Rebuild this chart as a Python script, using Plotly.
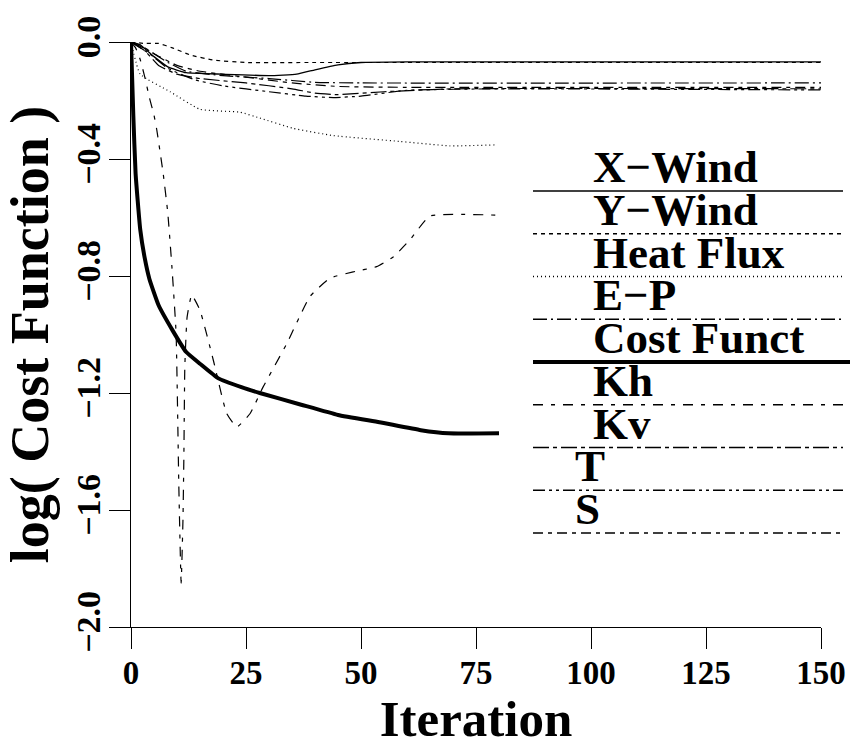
import plotly.graph_objects as go

# ---------------- data ----------------
series_names = ["X−Wind", "Y−Wind", "Heat Flux", "E−P", "Cost Funct", "Kh", "Kv", "T", "S"]

xwind_x = [0, 2, 5, 8, 12, 20, 30, 36, 40, 45, 50, 60, 80, 150]
xwind_y = [0, -0.01, -0.05, -0.085, -0.105, -0.11, -0.115, -0.11, -0.095, -0.078, -0.07, -0.068, -0.068, -0.068]

ywind_x = [0, 3, 6, 9, 13, 18, 25, 40, 60, 150]
ywind_y = [0, -0.005, -0.005, -0.02, -0.045, -0.062, -0.07, -0.07, -0.07, -0.07]

heat_x = [0, 2, 8.5, 15, 23.7, 28, 35.2, 44, 58.5, 69.3, 79]
heat_y = [0, -0.11, -0.17, -0.23, -0.24, -0.26, -0.295, -0.32, -0.34, -0.355, -0.352]

ep_x = [0, 4, 8, 12, 20, 30, 40, 50, 150]
ep_y = [0, -0.03, -0.07, -0.10, -0.115, -0.125, -0.138, -0.14, -0.14]

cost_x = [0, 0.5, 1, 2, 3, 4, 6, 9, 12, 15, 19, 24, 28, 37, 45, 54, 63, 69, 80]
cost_y = [0, -0.25, -0.45, -0.64, -0.74, -0.81, -0.90, -0.985, -1.06, -1.10, -1.15, -1.18, -1.20,
          -1.24, -1.275, -1.30, -1.327, -1.338, -1.338]

kh_x = [0, 1, 2, 3, 4, 5, 5.6, 7, 8, 8.9, 9.8, 10.4, 10.9, 11.3, 11.5, 11.7, 12.2, 13.2, 15, 17.9,
        20.8, 23, 25.9, 28.7, 33.9, 38.9, 43.3, 48.3, 53.4, 57, 60.6, 65, 79.5]
kh_y = [0, -0.02, -0.06, -0.12, -0.19, -0.25, -0.30, -0.45, -0.585, -0.77, -0.995, -1.52, -1.85,
        -1.63, -1.41, -1.11, -0.94, -0.865, -0.917, -1.088, -1.27, -1.316, -1.27, -1.18, -1.03,
        -0.87, -0.807, -0.786, -0.768, -0.735, -0.677, -0.595, -0.592]

kv_x = [0, 3, 6, 10, 15, 25, 35, 40, 45, 55, 70, 150]
kv_y = [0, -0.03, -0.08, -0.11, -0.125, -0.14, -0.16, -0.175, -0.18, -0.17, -0.16, -0.16]

t_x = [0, 4, 8, 14, 20, 30, 38, 44, 50, 60, 80, 150]
t_y = [0, -0.04, -0.09, -0.13, -0.15, -0.17, -0.185, -0.19, -0.185, -0.165, -0.16, -0.164]

s_x = [0, 2, 5, 10, 15, 25, 35, 45, 60, 150]
s_y = [0, -0.01, -0.04, -0.08, -0.10, -0.12, -0.14, -0.152, -0.155, -0.155]

x_ticks = [0, 25, 50, 75, 100, 125, 150]
y_ticks = [-2.0, -1.6, -1.2, -0.8, -0.4, 0.0]

# ---------------- styling ----------------
series_xy = [(xwind_x, xwind_y), (ywind_x, ywind_y), (heat_x, heat_y), (ep_x, ep_y),
             (cost_x, cost_y), (kh_x, kh_y), (kv_x, kv_y), (t_x, t_y), (s_x, s_y)]
dashes = ["solid", "4px,4px", "1px,3px", "14px,4px,2px,4px", "solid",
          "10px,8px,4px,8px", "16px,4px,4px,4px", "12px,4px,3px,4px,3px,4px", "10px,5px,4px,5px"]
widths = [1.3, 1.2, 1.2, 1.2, 4, 1.2, 1.2, 1.2, 1.2]

FONT = "Liberation Serif"

W, H = 851, 753
L, R, T, B = 131, 30, 42, 126
PW, PH = W - L - R, H - T - B


def px2paper_x(px):
    return (px - L) / PW


def px2paper_y(py):
    return (H - B - py) / PH


def ylabel(v):
    s = f"{v:.1f}"
    if v < 0:
        s = "−" + s[1:]
    return f"<b>{s}</b>"


fig = go.Figure()
for name, (xs, ys), d, w in zip(series_names, series_xy, dashes, widths):
    fig.add_trace(go.Scatter(x=xs, y=ys, mode="lines", name=name,
                             line=dict(color="black", width=w, dash=d, shape="spline", smoothing=0.4),
                             showlegend=False))

# hand-drawn style legend inside the plot
legend_line_y = [191 + 42.75 * i for i in range(len(series_names))]
text_x = [593, 593, 593, 593, 593, 593, 593, 575, 575]
for i, name in enumerate(series_names):
    ly = legend_line_y[i]
    x_end = 850 if i == 4 else 843
    fig.add_shape(type="line", xref="paper", yref="paper",
                  x0=px2paper_x(533), x1=px2paper_x(x_end), y0=px2paper_y(ly), y1=px2paper_y(ly),
                  line=dict(color="black", width=widths[i] + (0.3 if i != 4 else 0), dash=dashes[i]))
    fig.add_annotation(text=f"<b>{name}</b>", xref="paper", yref="paper",
                       x=px2paper_x(text_x[i] - 2), y=px2paper_y(ly + 3),
                       xanchor="left", yanchor="bottom", showarrow=False,
                       font=dict(family=FONT, size=45, color="black"))

fig.update_layout(
    width=W, height=H,
    margin=dict(l=L, r=R, t=T, b=B, autoexpand=False),
    paper_bgcolor="white", plot_bgcolor="white",
    font=dict(family=FONT, color="black"),
    xaxis=dict(range=[0, 150], tickvals=x_ticks, ticktext=[f"<b>{v}</b>" for v in x_ticks],
               showgrid=False, zeroline=False, showline=True, linecolor="black", linewidth=1.3,
               ticks="outside", ticklen=21, tickwidth=1.3, tickcolor="black",
               tickfont=dict(family=FONT, size=33, color="black", weight="bold"),
               ticklabelstandoff=-5,
               title=dict(text="<b>Iteration</b>", font=dict(family=FONT, size=51, color="black"),
                          standoff=4),
               automargin=False),
    yaxis=dict(range=[-2.0, 0.0], tickvals=y_ticks, ticktext=[ylabel(v) for v in y_ticks],
               showgrid=False, zeroline=False, showline=True, linecolor="black", linewidth=1.3,
               ticks="outside", ticklen=21, tickwidth=1.3, tickcolor="black", tickangle=-90,
               tickfont=dict(family=FONT, size=34, color="black", weight="bold"),
               ticklabelstandoff=-5,
               title=dict(text="<b>log( Cost Function )</b>", font=dict(family=FONT, size=54, color="black"),
                          standoff=10),
               automargin=False),
)

fig.write_html("out.html")
